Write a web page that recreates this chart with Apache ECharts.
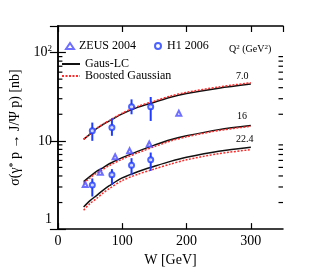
<!DOCTYPE html>
<html>
<head>
<meta charset="utf-8">
<script src="https://cdn.jsdelivr.net/npm/echarts@6/dist/echarts.min.js"></script>
<style>html,body{margin:0;padding:0;background:#fff}#c{width:315px;height:272px}</style>
</head>
<body>
<div id="c"></div>
<script>
// ---- data ----
const curveW = [40, 50, 60, 70, 80, 100, 125, 150, 175, 200, 250, 300];
const gausLC_7 = [10.4, 11.9, 13.7, 15.3, 16.8, 20.2, 24.1, 27.4, 31.2, 34.3, 39.5, 44.0];
const boosted_7 = [10.4, 12.0, 13.8, 15.5, 17.0, 20.6, 24.7, 28.2, 32.2, 35.4, 40.8, 45.5];
const gausLC_16 = [3.45, 3.95, 4.5, 4.95, 5.5, 6.45, 7.65, 8.95, 10.3, 11.4, 13.4, 14.9];
const boosted_16 = [3.3, 3.8, 4.3, 4.75, 5.25, 6.2, 7.35, 8.6, 9.95, 11.1, 13.1, 14.6];
const gausLC_224 = [1.78, 2.1, 2.4, 2.75, 3.1, 3.8, 4.5, 5.15, 5.85, 6.5, 7.6, 8.45];
const boosted_224 = [1.64, 1.95, 2.22, 2.55, 2.88, 3.55, 4.2, 4.8, 5.45, 6.1, 7.15, 7.95];

const zeusW = [188, 42.5, 66, 89, 111.5, 142];
const zeusSigma = [20.6, 3.2, 4.4, 6.6, 7.7, 9.2];

const h1W = [53.5, 84, 114.5, 144.3, 53.5, 84, 114.5, 144.3];
const h1Sigma = [13.0, 14.2, 24.3, 24.3, 3.15, 4.12, 5.3, 6.1];
const h1Low = [10.0, 11.4, 20.0, 16.8, 2.34, 3.17, 4.08, 4.57];
const h1High = [16.1, 18.0, 29.5, 31.4, 3.75, 4.78, 6.36, 7.37];

const xTicks = [0, 100, 200, 300];
const yMinorTicks = [2, 3, 4, 5, 6, 7, 8, 9, 20, 30, 40, 50, 60, 70, 80, 90];
const q2Labels = ['7.0', '16', '22.4'];

// ---- build ----
const FONT = 'Liberation Serif';
const BLACK = '#111';
const RED = '#ff2a2a';
const ZEUS_C = '#4b4bff';
const H1_C = '#1f3cff';

function pairs(xs, ys) { return xs.map((x, i) => [x, ys[i]]); }

function lineSeries(name, ys, dotted) {
  return {
    name: name, type: 'line', data: pairs(curveW, ys), smooth: 0.3,
    symbol: 'none', xAxisIndex: 0, yAxisIndex: 0, z: dotted ? 4 : 3,
    lineStyle: { color: dotted ? RED : BLACK, width: 1.5, type: dotted ? [2, 1.5] : 'solid' },
    itemStyle: { color: dotted ? RED : BLACK },
    emphasis: { disabled: true }, silent: true
  };
}

const chart = echarts.init(document.getElementById('c'), null, { renderer: 'canvas' });

const axisLine = { show: true, lineStyle: { color: '#000', width: 1.5 } };
const legendText = { fontFamily: FONT, fontSize: 12, color: '#000' };

const option = {
  animation: false,
  backgroundColor: '#fff',
  textStyle: { fontFamily: FONT },
  grid: { left: 47, right: 32, top: 26, bottom: 42 },
  legend: [
    {
      data: ['ZEUS 2004'], left: 60, top: 35, itemWidth: 8, itemHeight: 6, itemGap: 0,
      textStyle: legendText, selectedMode: false
    },
    {
      data: ['H1 2006'], left: 149, top: 35, itemWidth: 8, itemHeight: 6, itemGap: 0,
      textStyle: legendText, selectedMode: false
    },
    {
      data: ['Gaus-LC', 'Boosted Gaussian'], orient: 'vertical', left: 56, top: 53,
      itemWidth: 18, itemHeight: 8, itemGap: 0,
      itemStyle: { opacity: 0 },
      textStyle: Object.assign({ lineHeight: 8 }, legendText), selectedMode: false
    }
  ],
  xAxis: [
    {
      type: 'value', min: 0, max: 350, interval: 100, position: 'bottom',
      axisLine: axisLine, splitLine: { show: false },
      axisTick: { inside: true, length: 6, lineStyle: { color: '#000', width: 1.2 } },
      axisLabel: { fontFamily: FONT, fontSize: 14, color: '#000', margin: 5, showMaxLabel: false },
      name: 'W [GeV]', nameLocation: 'middle', nameGap: 20,
      nameTextStyle: { fontFamily: FONT, fontSize: 14, color: '#000' }
    },
    {
      type: 'value', min: 0, max: 350, interval: 100, position: 'top',
      axisLine: axisLine, splitLine: { show: false },
      axisTick: { inside: true, length: 6, lineStyle: { color: '#000', width: 1.2 } },
      axisLabel: { show: false }
    }
  ],
  yAxis: [
    {
      type: 'log', logBase: 10, min: 1, max: 200, position: 'left',
      axisLine: axisLine, splitLine: { show: false },
      axisTick: { inside: true, length: 8, lineStyle: { color: '#000', width: 1.2 } },
      axisLabel: {
        fontFamily: FONT, fontSize: 14, color: '#000', margin: 6, showMaxLabel: false,
        formatter: function (v) {
          if (Math.abs(v - 1) < 1e-9) return '{lo|1}';
          if (Math.abs(v - 10) < 1e-9) return '{m|10}';
          if (Math.abs(v - 100) < 1e-9) return '{m|10}{sup|2}';
          return '';
        },
        rich: {
          lo: { fontFamily: FONT, fontSize: 14, color: '#000', padding: [0, 0, 20, 0] },
          m: { fontFamily: FONT, fontSize: 14, color: '#000', lineHeight: 16 },
          sup: { fontFamily: FONT, fontSize: 9, color: '#000', verticalAlign: 'top', lineHeight: 9, padding: [0, 0, 6, 0] }
        }
      },
      name: 'σ(γ{s|*} p → J/Ψ p) [nb]', nameLocation: 'middle', nameGap: 25,
      nameTextStyle: {
        fontFamily: FONT, fontSize: 14, color: '#000',
        rich: { s: { fontFamily: FONT, fontSize: 10, color: '#000', padding: [0, 0, 5, 0] } }
      }
    },
    {
      type: 'log', logBase: 10, min: 1, max: 200, position: 'right',
      axisLine: axisLine, splitLine: { show: false },
      axisTick: { inside: true, length: 8, lineStyle: { color: '#000', width: 1.2 } },
      axisLabel: { show: false }
    }
  ],
  series: [
    lineSeries('Gaus-LC', gausLC_7, false),
    lineSeries('Gaus-LC', gausLC_16, false),
    lineSeries('Gaus-LC', gausLC_224, false),
    lineSeries('Boosted Gaussian', boosted_7, true),
    lineSeries('Boosted Gaussian', boosted_16, true),
    lineSeries('Boosted Gaussian', boosted_224, true),
    {
      name: 'H1 errors', type: 'custom', xAxisIndex: 0, yAxisIndex: 0, z: 5, silent: true,
      data: h1W.map((w, i) => [w, h1Low[i], h1High[i]]),
      renderItem: function (params, api) {
        const a = api.coord([api.value(0), api.value(1)]);
        const b = api.coord([api.value(0), api.value(2)]);
        return { type: 'line', shape: { x1: a[0], y1: a[1], x2: b[0], y2: b[1] },
                 style: { stroke: H1_C, lineWidth: 2 } };
      }
    },
    {
      name: 'ZEUS 2004', type: 'scatter', data: pairs(zeusW, zeusSigma), z: 6,
      symbol: 'emptyTriangle', symbolSize: 5,
      itemStyle: { color: ZEUS_C, borderColor: ZEUS_C, borderWidth: 0.9 }, silent: true
    },
    {
      name: 'H1 2006', type: 'scatter', data: pairs(h1W, h1Sigma), z: 7,
      symbol: 'emptyCircle', symbolSize: 5,
      itemStyle: { color: H1_C, borderColor: H1_C, borderWidth: 1 }, silent: true
    },
    {
      name: 'minor ticks', type: 'custom', xAxisIndex: 0, yAxisIndex: 0, z: 10, silent: true,
      clip: false,
      data: yMinorTicks.map(v => [0, v]),
      renderItem: function (params, api) {
        const l = api.coord([0, api.value(1)]);
        const r = api.coord([350, api.value(1)]);
        const st = { stroke: '#000', lineWidth: 1.2 };
        return { type: 'group', children: [
          { type: 'line', shape: { x1: l[0], y1: l[1], x2: l[0] + 4.5, y2: l[1] }, style: st },
          { type: 'line', shape: { x1: r[0] - 4.5, y1: r[1], x2: r[0], y2: r[1] }, style: st }
        ] };
      }
    }
  ],
  graphic: [
    { type: 'text', left: 229, top: 44, silent: true,
      style: { text: 'Q{s|2} (GeV{s|2})', fill: '#000', font: '10px "Liberation Serif"',
               rich: { s: { fontSize: 7, fontFamily: FONT, fill: '#000', padding: [0, 0, 4, 0] } } } },
    { type: 'text', left: 236, top: 71, silent: true,
      style: { text: q2Labels[0], fill: '#000', font: '10px "Liberation Serif"' } },
    { type: 'text', left: 237, top: 111, silent: true,
      style: { text: q2Labels[1], fill: '#000', font: '10px "Liberation Serif"' } },
    { type: 'text', left: 236, top: 134, silent: true,
      style: { text: q2Labels[2], fill: '#000', font: '10px "Liberation Serif"' } }
  ]
};
chart.setOption(option);
</script>
</body>
</html>
